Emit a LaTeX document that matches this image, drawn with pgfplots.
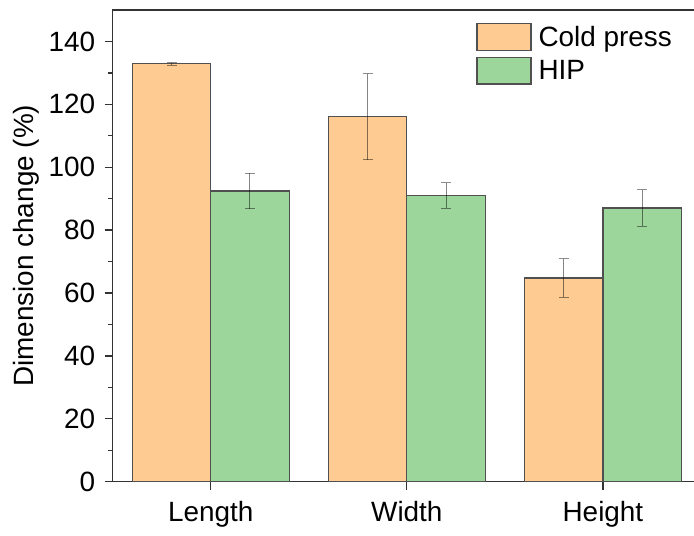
\documentclass[border=0pt]{standalone}
\usepackage{pgfplots}
\pgfplotsset{compat=1.18}
\usepackage{fontspec}
\setmainfont{Liberation Sans}
\definecolor{cold}{RGB}{254,204,146}
\definecolor{hip}{RGB}{156,214,154}
\definecolor{edge}{RGB}{80,80,80}
\newcommand{\bigfont}{\fontsize{28}{33}\selectfont}
\begin{document}
\begin{tikzpicture}
\begin{axis}[
  scale only axis, width=586.3bp, height=471.7bp,
  ybar=0pt, bar width=0.4,
  xmin=-0.5, xmax=2.49,
  ymin=0, ymax=150,
  ytick={0,20,...,140}, minor y tick num=1,
  xtick={0,1,2}, xticklabels={Length,Width,Height},
  tick align=outside, tick pos=left,
  major tick length=8bp, minor tick length=4.5bp,
  axis line style={line width=1.3bp, draw=black!80},
  every tick/.style={line width=1.3bp, black!80},
  every tick label/.append style={font=\bigfont},
  yticklabel style={xshift=-6bp},
  xticklabel style={yshift=-8bp},
  /pgf/number format/assume math mode=true,
  ylabel={Dimension change (\%)},
  ylabel style={font=\bigfont, at={([xshift=-86bp]rel axis cs:0,0.5)}, anchor=center},
  legend style={at={(rel axis cs:0.6197,0.973)}, anchor=north west, draw=none, fill=none,
    font=\bigfont, inner sep=0pt, row sep=6bp},
  legend cell align=left,
  /tikz/every odd column/.append style={column sep=5bp},
  error bars/error bar style={line width=1bp, black, opacity=0.45},
  error bars/error mark options={rotate=90, mark size=5bp, line width=1bp, black, opacity=0.45},
]
\addplot[fill=cold, draw=edge, line width=1.3bp,
  legend image code/.code={\draw[fill=cold, draw=edge, line width=1.3bp] (0bp,-13.3bp) rectangle (54bp,13.3bp);},
  error bars/.cd, y dir=both, y explicit]
  coordinates {(0,132.9) +- (0,0.4) (1,116.1) +- (0,13.7) (2,64.8) +- (0,6.1)};
\addplot[fill=hip, draw=edge, line width=1.3bp,
  legend image code/.code={\draw[fill=hip, draw=edge, line width=1.3bp] (0bp,-13.3bp) rectangle (54bp,13.3bp);},
  error bars/.cd, y dir=both, y explicit]
  coordinates {(0,92.4) +- (0,5.65) (1,91.0) +- (0,4.05) (2,87.0) +- (0,5.8)};
\legend{Cold press, HIP}
\end{axis}
\pgfresetboundingbox
\path ([xshift=-112.7bp,yshift=-54.3bp]current axis.south west) rectangle ([xshift=-5bp,yshift=10bp]current axis.north east);
\end{tikzpicture}
\end{document}
